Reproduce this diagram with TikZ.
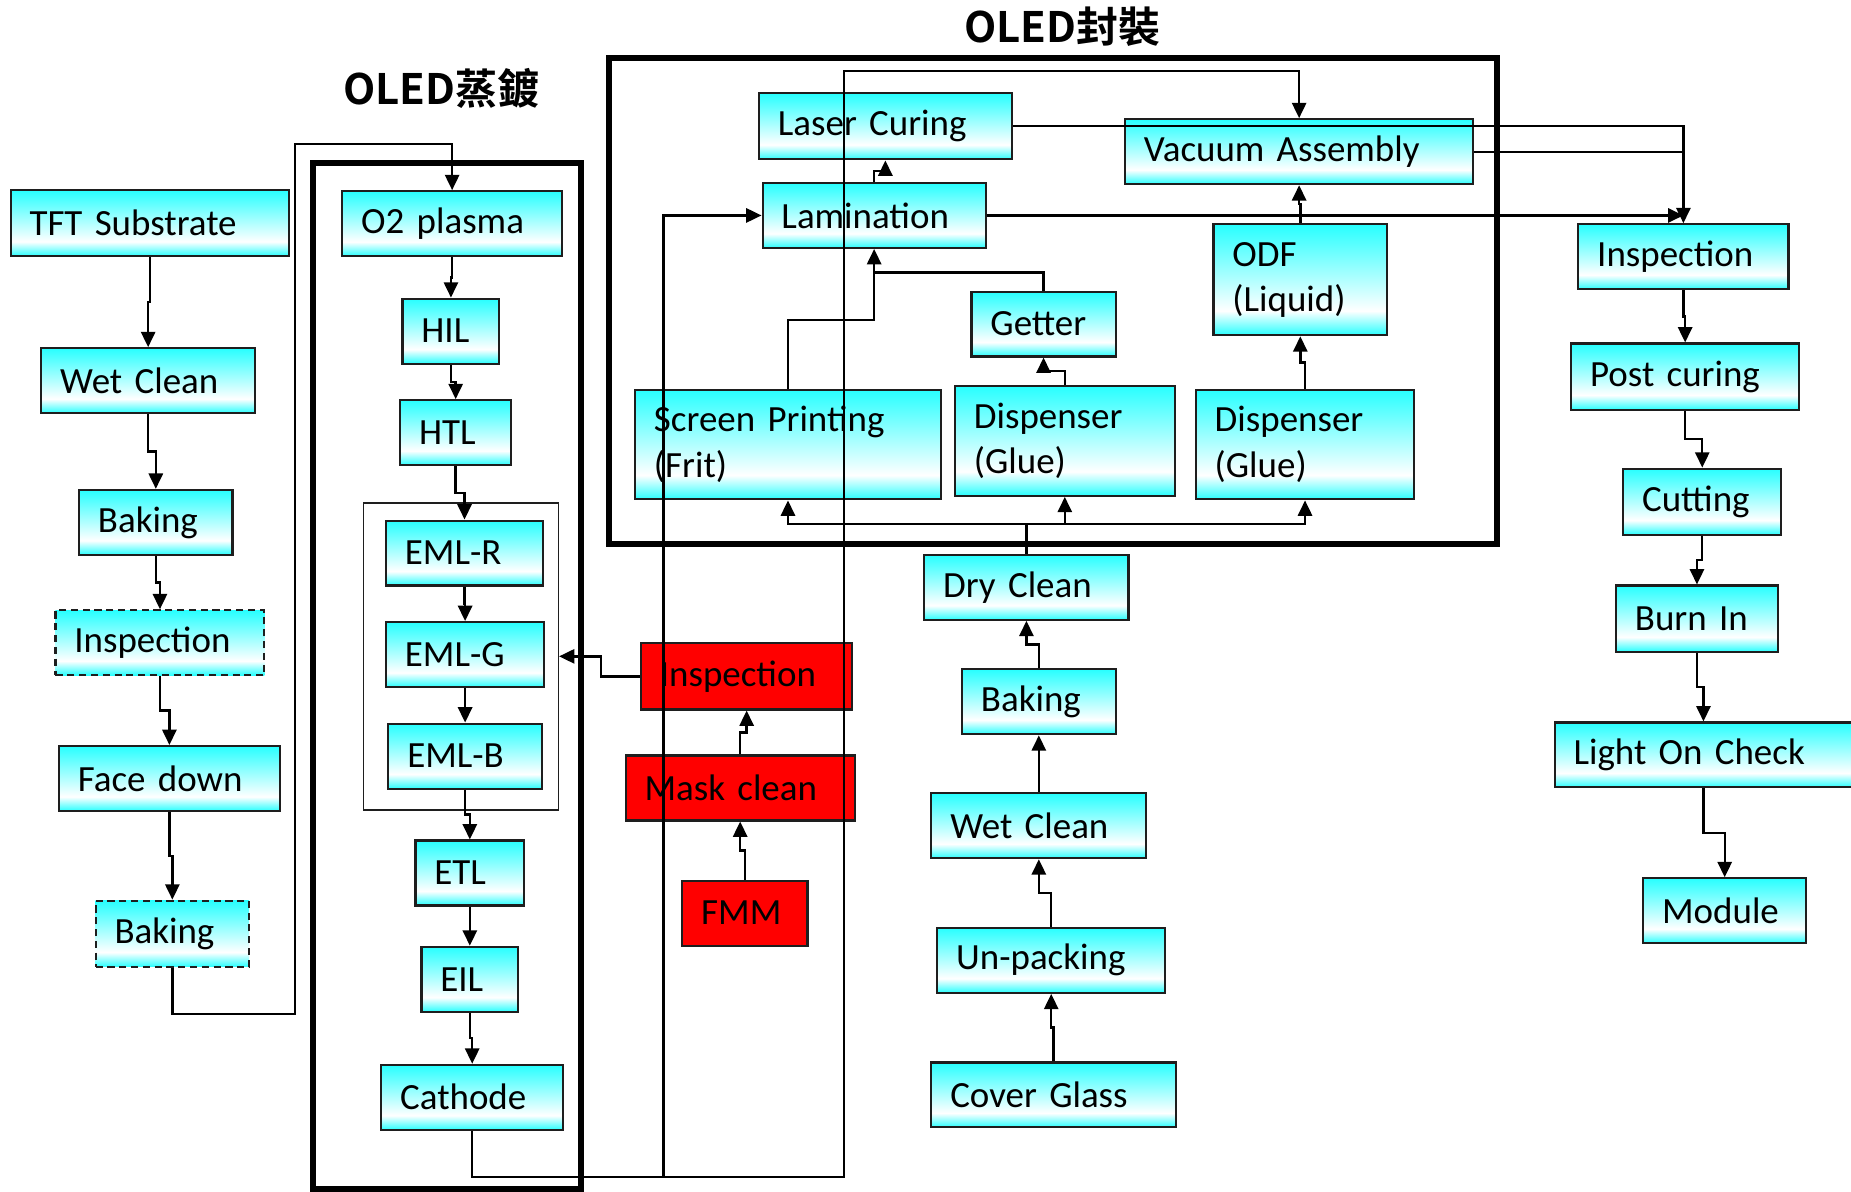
\documentclass[tikz,border=0pt]{standalone}
\usepackage{fontspec}
\setmainfont{Carlito}
\newfontfamily\cjkbold{Noto Sans CJK TC Bold}
\usetikzlibrary{arrows.meta,calc}

\definecolor{boxcyan}{RGB}{40,255,255}
\definecolor{maskred}{RGB}{255,0,0}
\definecolor{edge}{RGB}{30,30,30}
\pgfdeclareverticalshading{cyanfade}{100bp}{color(0bp)=(boxcyan); color(25bp)=(boxcyan); color(36bp)=(white); color(75bp)=(boxcyan); color(100bp)=(boxcyan)}

\tikzset{
  basebox/.style={draw=edge, line width=1.8pt, align=left,
    inner xsep=16pt, inner ysep=0pt, font=\fontsize{31.3}{38.5}\selectfont},
  stepbox/.style={basebox, shading=cyanfade},
  dashbox/.style={stepbox, dash pattern=on 6pt off 4pt},
  redbox/.style={basebox, fill=maskred},
  bigframe/.style={draw=black, line width=5.5pt, inner sep=0pt},
  grpframe/.style={draw=edge, line width=1.2pt, inner sep=0pt},
  line/.style={draw=black, line width=2pt},
  conn/.style={line, -{Triangle[width=12pt,length=13pt]}},
  title/.style={font=\cjkbold\fontsize{35.5}{42}\selectfont}
}

% a process box given by its corners; text sits left with a fixed inset
\newcommand\flowbox[7][stepbox]{%
  \pgfmathsetmacro\fbW{#5-#3}\pgfmathsetmacro\fbH{#6-#4}\pgfmathsetmacro\fbT{#5-#3-32}%
  \node[#1,minimum width=\fbW pt,minimum height=\fbH pt,text width=\fbT pt]
    (#2) at ({(#3+#5)/2},{(#4+#6)/2}) {#7};}
% elbow connectors with the jog half way
\newcommand\downlink[2]{\draw[conn] (#1.south) |- ($(#1.south)!0.5!(#2.north)$) -| (#2.north);}
\newcommand\uplink[2]{\draw[conn] (#1.north) |- ($(#1.north)!0.5!(#2.south)$) -| (#2.south);}

\begin{document}
\begin{tikzpicture}[x=1pt,y=-1pt]
\clip (0,0) rectangle (1568,1009);
\fill[white] (0,0) rectangle (1568,1009);

% titles
\node[title] (ttlA) at (374,75) {OLED蒸鍍};
\node[title] (ttlB) at (900,23) {OLED封裝};

% frames
\node[bigframe, minimum width=227pt, minimum height=869pt] (evap) at (378.5,572.5) {};
\node[bigframe, minimum width=752pt, minimum height=412pt] (encap) at (892,255) {};
\node[grpframe, minimum width=165pt, minimum height=260pt] (grp) at (390.5,556) {};

% substrate preparation
\flowbox{tft}{9}{161}{245}{217}{TFT Substrate}
\flowbox{wcA}{35}{295}{216}{350}{Wet Clean}
\flowbox{bkA}{67}{415}{197}{470}{Baking}
\flowbox[dashbox]{inA}{47}{517}{224}{572}{Inspection}
\flowbox{fd}{50}{632}{237}{687}{Face down}
\flowbox[dashbox]{bkB}{81}{763}{211}{819}{Baking}

% evaporation
\flowbox{otwo}{290}{162}{476}{217}{O2 plasma}
\flowbox{hil}{341}{253}{423}{308}{HIL}
\flowbox{htl}{339}{339}{433}{394}{HTL}
\flowbox{emr}{327}{441}{460}{496}{EML-R}
\flowbox{emg}{327}{527}{461}{582}{EML-G}
\flowbox{emb}{329}{613}{459}{668}{EML-B}
\flowbox{etl}{352}{712}{444}{767}{ETL}
\flowbox{eil}{357}{802}{439}{857}{EIL}
\flowbox{cat}{323}{902}{477}{957}{Cathode}

% mask line
\flowbox[redbox]{inB}{543}{545}{722}{601}{Inspection}
\flowbox[redbox]{msk}{530}{640}{724}{695}{Mask clean}
\flowbox[redbox]{fmm}{578}{746}{684}{801}{FMM}

% encapsulation
\flowbox{lsr}{643}{79}{857}{135}{Laser Curing}
\flowbox{vac}{953}{101}{1248}{156}{Vacuum Assembly}
\flowbox{lam}{646}{155}{835}{210}{Lamination}
\flowbox{odf}{1028}{190}{1175}{284}{ODF\\(Liquid)}
\flowbox{get}{823}{247}{945}{302}{Getter}
\flowbox{scr}{538}{330}{797}{423}{Screen Printing\\(Frit)}
\flowbox{dsA}{809}{327}{995}{420}{Dispenser\\(Glue)}
\flowbox{dsB}{1013}{330}{1198}{423}{Dispenser\\(Glue)}

% cover glass line
\flowbox{dry}{783}{470}{956}{525}{Dry Clean}
\flowbox{bkC}{815}{567}{945}{622}{Baking}
\flowbox{wcB}{789}{672}{971}{727}{Wet Clean}
\flowbox{unp}{794}{786}{987}{841}{Un-packing}
\flowbox{cgl}{789}{900}{996}{955}{Cover Glass}

% module
\flowbox{inC}{1337}{190}{1515}{245}{Inspection}
\flowbox{pcu}{1331}{291}{1524}{347}{Post curing}
\flowbox{cut}{1375}{397}{1509}{453}{Cutting}
\flowbox{bin}{1369}{496}{1506}{552}{Burn In}
\flowbox{loc}{1317}{612}{1569}{667}{Light On Check}
\flowbox{mod}{1392}{744}{1530}{799}{Module}

% ---- connectors ----
\downlink{tft}{wcA}
\downlink{wcA}{bkA}
\downlink{bkA}{inA}
\downlink{inA}{fd}
\downlink{fd}{bkB}
\coordinate (loopTop) at (250,122);
\draw[conn] (bkB.south) |- (250,859) |- (loopTop -| otwo.north) -- (otwo.north);

\downlink{otwo}{hil}
\downlink{hil}{htl}
\downlink{htl}{emr}
\downlink{emr}{emg}
\downlink{emg}{emb}
\downlink{emb}{etl}
\downlink{etl}{eil}
\downlink{eil}{cat}

\coordinate (busL) at (562,997);
\coordinate (busR) at (715,997);
\coordinate (riseR) at (715,60);
\draw[conn] (cat.south) |- (busR) -- (riseR) -| (vac.north);
\draw[conn] (busL) |- (lam.west);

\uplink{fmm}{msk}
\uplink{msk}{inB}
\draw[conn] (inB.west) -- ++(-33,0) |- (grp.east);

\uplink{cgl}{unp}
\uplink{unp}{wcB}
\uplink{wcB}{bkC}
\uplink{bkC}{dry}
\coordinate (dryBus) at ($(dry.north)+(0,-25)$);
\draw[line] (dry.north) -- (dryBus);
\draw[conn] (dryBus) -| (scr.south);
\draw[conn] (dryBus) -| (dsA.south);
\draw[conn] (dryBus) -| (dsB.south);

\draw[conn] (scr.north) |- ($(lam.south)+(0,60)$) -- (lam.south);
\draw[line] (get.north) |- ($(lam.south)+(0,20)$);
\uplink{dsA}{get}
\uplink{dsB}{odf}
\uplink{odf}{vac}
\uplink{lam}{lsr}

\draw[conn] (lsr.east) -| (inC.north);
\draw[line] (vac.east) -- (vac.east -| inC.north);
\draw[conn] (lam.east) -- (lam.east -| inC.north);

\downlink{inC}{pcu}
\downlink{pcu}{cut}
\downlink{cut}{bin}
\downlink{bin}{loc}
\downlink{loc}{mod}
\end{tikzpicture}
\end{document}
